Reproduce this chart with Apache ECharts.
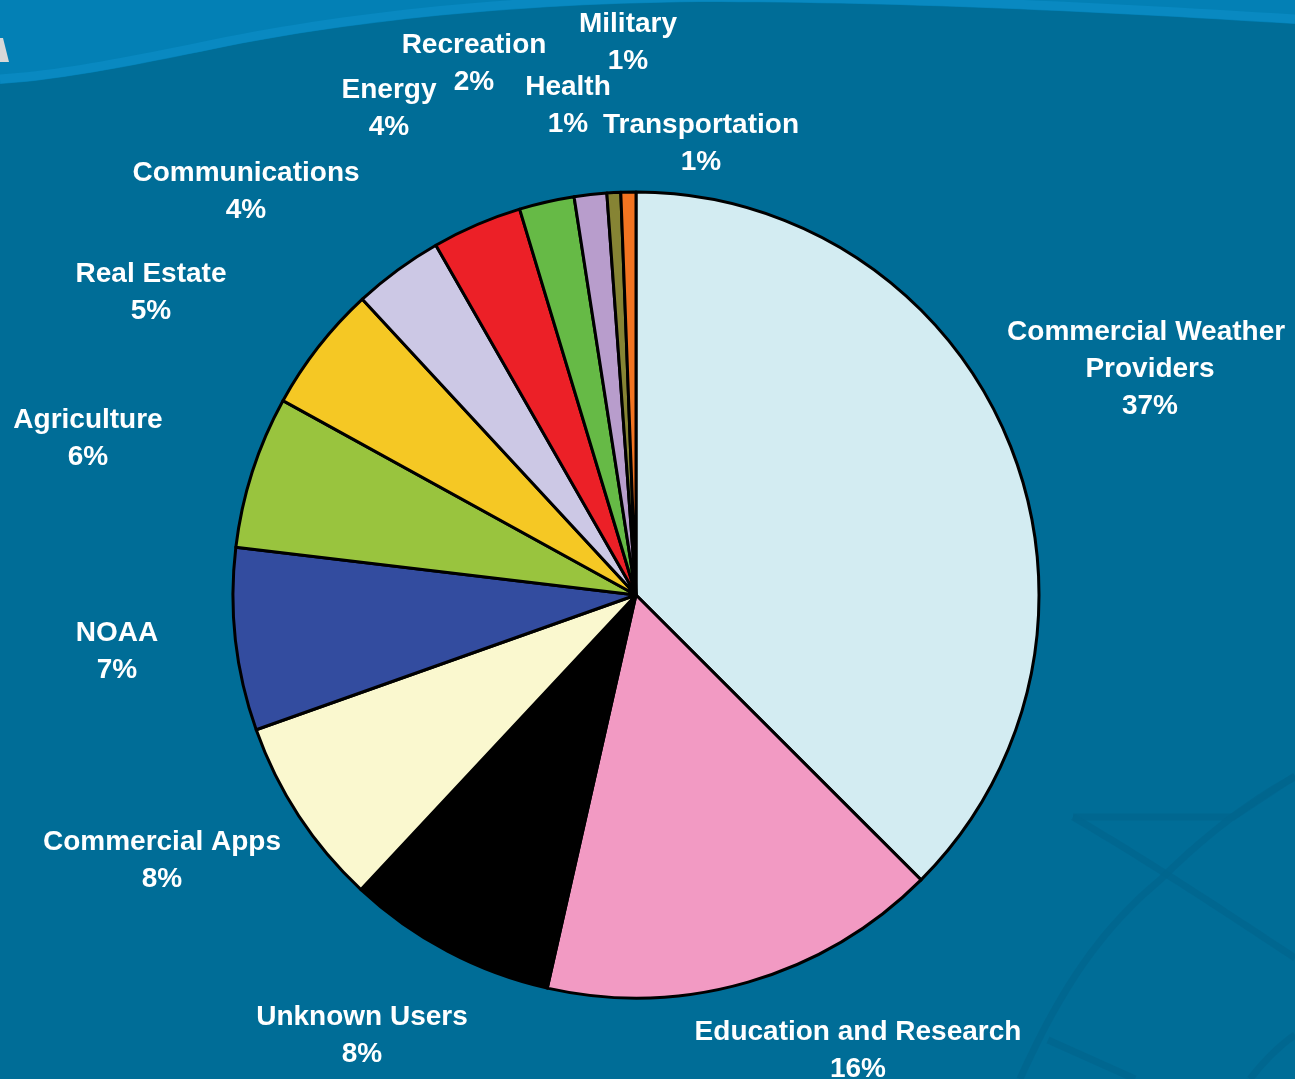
<!DOCTYPE html>
<html>
<head>
<meta charset="utf-8">
<title>Users by sector</title>
<script src="https://cdn.jsdelivr.net/npm/echarts@6/dist/echarts.min.js"></script>
<style>
  html, body { margin: 0; padding: 0; background: #006D97; }
  #chart { width: 1295px; height: 1079px; }
</style>
</head>
<body>
<div id="chart"></div>
<script>
// Sector names, clockwise from twelve o'clock
const categories = [
  'Commercial Weather Providers',
  'Education and Research',
  'Unknown Users',
  'Commercial Apps',
  'NOAA',
  'Agriculture',
  'Real Estate',
  'Communications',
  'Energy',
  'Recreation',
  'Health',
  'Military',
  'Transportation'
];

// Share of users per sector (percent)
const shares = [37.4, 16.0, 8.4, 7.6, 7.3, 6.1, 5.1, 3.6, 3.6, 2.2, 1.3, 0.55, 0.6];

// Slice fill colours, same order as the sectors
const palette = [
  '#D3ECF2', '#F29AC3', '#000000', '#FAF8CF', '#334C9F', '#99C43E', '#F5C824',
  '#CCC8E5', '#EC2027', '#66BA46', '#B89DCC', '#868434', '#F27421'
];

// Centre point of each label block, in page pixels
const labelAnchors = [
  [1150, 369], [858, 1051], [362, 1036], [162, 861], [117, 652], [88, 439],
  [151, 293], [246, 192], [389, 109], [474, 64], [568, 106], [628, 43], [701, 144]
];

// Sample a cubic Bezier segment into a list of points
function cubic(p0, p1, p2, p3, n) {
  const pts = [];
  for (let i = 0; i <= n; i++) {
    const t = i / n, u = 1 - t;
    pts.push([
      u * u * u * p0[0] + 3 * u * u * t * p1[0] + 3 * u * t * t * p2[0] + t * t * t * p3[0],
      u * u * u * p0[1] + 3 * u * u * t * p1[1] + 3 * u * t * t * p2[1] + t * t * t * p3[1]
    ]);
  }
  return pts;
}

// Wavy lower edge of the light band at the top, right to left
const bandEdge = cubic([1295, 24], [1100, 12], [900, 2], [700, 2], 30)
  .concat(cubic([700, 2], [500, 4], [330, 24], [200, 52], 30))
  .concat(cubic([200, 52], [120, 68], [60, 80], [0, 84], 20));
const bandPoints = [[0, 0], [1295, 0]].concat(bandEdge);
const highlight = bandEdge.map(p => [p[0], p[1] - 5]);

const chart = echarts.init(document.getElementById('chart'), null, { renderer: 'canvas' });

const pieData = categories.map((name, i) => {
  const item = { name: name, value: shares[i], itemStyle: { color: palette[i] } };
  if (i === 0) {
    item.label = { width: 300, overflow: 'break' };
  }
  return item;
});

const faint = { fill: null, stroke: '#00658E', lineWidth: 7, opacity: 0.75 };

chart.setOption({
  backgroundColor: '#006D97',
  animation: false,
  graphic: [
    { type: 'polygon', z: -10, shape: { points: bandPoints }, style: { fill: '#0380B5' } },
    { type: 'polyline', z: -9, shape: { points: highlight }, style: { fill: null, stroke: '#0989C1', lineWidth: 9 } },
    // corner fragment at the left edge
    { type: 'polygon', z: -8, shape: { points: [[0, 38], [3, 38], [9, 62], [0, 62]] }, style: { fill: '#D8D8D8' } },
    // faint lines in the lower right
    { type: 'polyline', z: -8, shape: { points: [[1073, 817], [1233, 817], [1295, 776]] }, style: faint },
    { type: 'polyline', z: -8, shape: { points: cubic([1073, 817], [1150, 862], [1230, 915], [1295, 958], 30) }, style: faint },
    { type: 'polyline', z: -8, shape: { points: cubic([1020, 1079], [1060, 990], [1100, 930], [1160, 880], 30).concat(cubic([1160, 880], [1200, 840], [1250, 800], [1295, 777], 30)) }, style: faint },
    { type: 'polyline', z: -8, shape: { points: [[1048, 1040], [1135, 1079]] }, style: faint },
    { type: 'polyline', z: -8, shape: { points: cubic([1250, 1079], [1265, 1060], [1280, 1045], [1295, 1035], 20) }, style: faint }
  ],
  series: [{
    type: 'pie',
    center: [636, 595],
    radius: 403,
    startAngle: 90,
    clockwise: true,
    avoidLabelOverlap: false,
    emphasis: { disabled: true },
    itemStyle: { borderColor: '#000000', borderWidth: 3 },
    labelLine: { show: false },
    label: {
      show: true,
      position: 'outside',
      color: '#FFFFFF',
      fontFamily: '"Liberation Sans", Arial, sans-serif',
      fontWeight: 'bold',
      fontSize: 28,
      lineHeight: 37,
      align: 'center',
      formatter: p => p.name + '\n' + Math.round(p.value) + '%'
    },
    labelLayout: p => {
      const a = labelAnchors[p.dataIndex];
      return { x: a[0], y: a[1], align: 'center', verticalAlign: 'middle' };
    },
    data: pieData
  }]
});
</script>
</body>
</html>
